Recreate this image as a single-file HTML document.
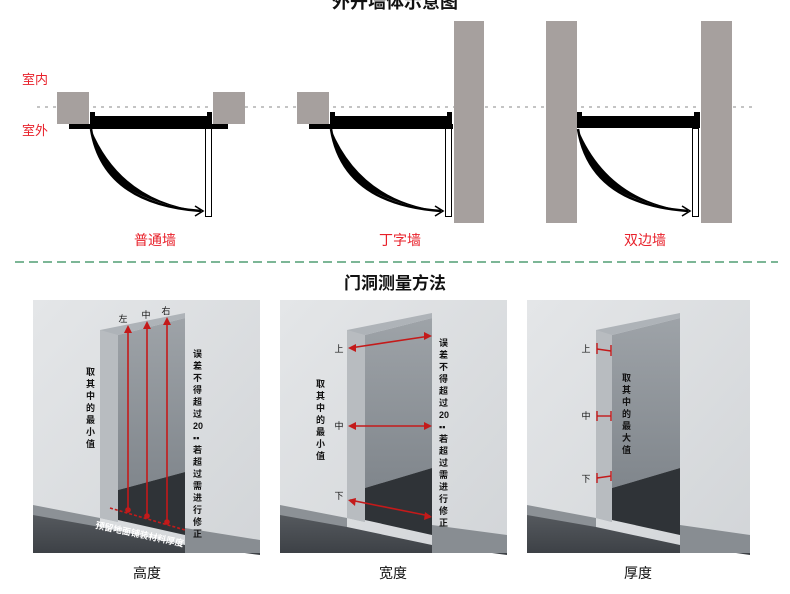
<!DOCTYPE html>
<html><head><meta charset="utf-8"><style>
html,body{margin:0;padding:0;background:#fff;width:790px;height:594px;overflow:hidden}
text{font-family:"Liberation Sans","Noto Sans CJK SC",sans-serif}
</style></head><body>
<svg width="790" height="594" viewBox="0 0 790 594" xmlns="http://www.w3.org/2000/svg">
<defs>
<linearGradient id="wall" x1="0" y1="0" x2="1" y2="1"><stop offset="0" stop-color="#e4e6e8"/><stop offset="1" stop-color="#d2d5d8"/></linearGradient>
<linearGradient id="back" x1="0" y1="0" x2="0" y2="1"><stop offset="0" stop-color="#9ea3a8"/><stop offset="1" stop-color="#80868c"/></linearGradient>
<linearGradient id="floor" x1="0" y1="0" x2="0" y2="1"><stop offset="0" stop-color="#55595e"/><stop offset="1" stop-color="#3c4045"/></linearGradient>
<g id="arc">
<path d="M0,0 Q8,70 110,82 Q30,72 0,0Z" fill="#000"/>
<path d="M0,0 Q12,75 110,82" fill="none" stroke="#000" stroke-width="2.5"/>
<path d="M104,77 L112,82 L104,87" fill="none" stroke="#000" stroke-width="1.6"/>
</g>
</defs>
<text x="395" y="8" font-size="18" font-weight="bold" text-anchor="middle" fill="#111">外开墙体示意图</text>
<line x1="37" y1="107" x2="752" y2="107" stroke="#888" stroke-dasharray="3,5" stroke-width="1"/>
<text x="22" y="84" font-size="13" fill="#e8202a">室内</text>
<text x="22" y="135" font-size="13" fill="#e8202a">室外</text>
<!-- diagram 1 -->
<rect x="57" y="92" width="32" height="32" fill="#a6a09e"/>
<rect x="213" y="92" width="32" height="32" fill="#a6a09e"/>
<rect x="69" y="124" width="159" height="5" fill="#000"/>
<rect x="90" y="116" width="122" height="12" fill="#000"/>
<rect x="90" y="112" width="5" height="6" fill="#000"/><rect x="207" y="112" width="5" height="6" fill="#000"/>
<rect x="205.5" y="128.5" width="6" height="88" fill="#fff" stroke="#000" stroke-width="1"/>
<use href="#arc" x="91" y="129"/>
<text x="155" y="245" font-size="14" fill="#e8202a" text-anchor="middle">普通墙</text>
<!-- diagram 2 -->
<rect x="297" y="92" width="32" height="32" fill="#a6a09e"/>
<rect x="309" y="124" width="144" height="5" fill="#000"/>
<rect x="330" y="116" width="122" height="12" fill="#000"/>
<rect x="330" y="112" width="5" height="6" fill="#000"/><rect x="447" y="112" width="5" height="6" fill="#000"/>
<rect x="454" y="21" width="30" height="202" fill="#a6a09e"/>
<rect x="445.5" y="128.5" width="6" height="88" fill="#fff" stroke="#000" stroke-width="1"/>
<use href="#arc" x="331" y="129"/>
<text x="400" y="245" font-size="14" fill="#e8202a" text-anchor="middle">丁字墙</text>
<!-- diagram 3 -->
<rect x="546" y="21" width="31" height="202" fill="#a6a09e"/>
<rect x="701" y="21" width="31" height="202" fill="#a6a09e"/>
<rect x="577" y="116" width="123" height="12" fill="#000"/>
<rect x="577" y="112" width="5" height="6" fill="#000"/><rect x="694" y="112" width="6" height="6" fill="#000"/>
<rect x="692.5" y="128.5" width="6" height="88" fill="#fff" stroke="#000" stroke-width="1"/>
<use href="#arc" x="578" y="129"/>
<text x="645" y="245" font-size="14" fill="#e8202a" text-anchor="middle">双边墙</text>
<line x1="15" y1="262" x2="778" y2="262" stroke="#2e8b57" stroke-dasharray="9,5" stroke-width="1.2"/>
<text x="395" y="289" font-size="17" font-weight="bold" text-anchor="middle" fill="#111">门洞测量方法</text>

<!-- panel 1 -->
<g>
<rect x="33" y="300" width="227" height="253" fill="url(#wall)"/>
<polygon points="33,505 100,518 100,553 33,553" fill="#8c9196"/>
<polygon points="33,515 100,527 185,545 260,555 260,553 33,553" fill="url(#floor)"/>
<polygon points="185,528 260,540 260,553 185,553" fill="#888d92"/>
<polygon points="118,335 185,318 185,472 118,490" fill="url(#back)"/>
<polygon points="118,490 185,472 185,535 118,520" fill="#2f3337"/>
<polygon points="100,330 185,313 185,318 118,335 118,522 100,518" fill="#aeb3b8"/>
<polygon points="100,330 118,335 118,522 100,518" fill="#b8bcc0"/>
<g stroke="#c41a1a" stroke-width="1.6" fill="#c41a1a">
<line x1="128" y1="328" x2="128" y2="510"/><line x1="147" y1="324" x2="147" y2="516"/><line x1="167" y1="320" x2="167" y2="522"/>
<polygon points="124,333 128,325 132,333" stroke="none"/><polygon points="143,329 147,321 151,329" stroke="none"/><polygon points="163,325 167,317 171,325" stroke="none"/>
<circle cx="128" cy="510" r="2"/><circle cx="147" cy="516" r="2"/><circle cx="167" cy="522" r="2"/>
<line x1="110" y1="508" x2="185" y2="530" stroke-dasharray="3,2"/>
</g>
<text x="123" y="322" font-size="9" fill="#111" text-anchor="middle">左</text>
<text x="146" y="318" font-size="9" fill="#111" text-anchor="middle">中</text>
<text x="166" y="314" font-size="9" fill="#111" text-anchor="middle">右</text>
<text font-size="9" fill="#111" font-weight="bold"><tspan x="86" y="375">取</tspan><tspan x="86" y="387">其</tspan><tspan x="86" y="399">中</tspan><tspan x="86" y="411">的</tspan><tspan x="86" y="423">最</tspan><tspan x="86" y="435">小</tspan><tspan x="86" y="447">值</tspan></text>
<text font-size="9" fill="#111" font-weight="bold"><tspan x="193" y="357">误</tspan><tspan x="193" y="369">差</tspan><tspan x="193" y="381">不</tspan><tspan x="193" y="393">得</tspan><tspan x="193" y="405">超</tspan><tspan x="193" y="417">过</tspan><tspan x="193" y="429">20</tspan><tspan x="193" y="441">▪▪</tspan><tspan x="193" y="453">若</tspan><tspan x="193" y="465">超</tspan><tspan x="193" y="477">过</tspan><tspan x="193" y="489">需</tspan><tspan x="193" y="501">进</tspan><tspan x="193" y="513">行</tspan><tspan x="193" y="525">修</tspan><tspan x="193" y="537">正</tspan></text>
<text x="95" y="528" font-size="9" fill="#fff" font-weight="bold" transform="rotate(12 95 528)">预留地面铺装材料厚度</text>
</g>
<text x="147" y="578" font-size="14" fill="#111" text-anchor="middle">高度</text>

<!-- panel 2 -->
<g>
<rect x="280" y="300" width="227" height="253" fill="url(#wall)"/>
<polygon points="280,505 347,518 347,553 280,553" fill="#8c9196"/>
<polygon points="280,515 347,527 432,545 507,555 507,553 280,553" fill="url(#floor)"/>
<polygon points="432,525 507,535 507,553 432,553" fill="#888d92"/>
<polygon points="365,335 432,318 432,468 365,488" fill="url(#back)"/>
<polygon points="365,488 432,468 432,535 365,520" fill="#2f3337"/>
<polygon points="347,330 432,313 432,318 365,335 365,522 347,518" fill="#aeb3b8"/>
<polygon points="347,330 365,335 365,522 347,518" fill="#b8bcc0"/>
<g stroke="#c41a1a" stroke-width="1.6" fill="#c41a1a">
<line x1="350" y1="348" x2="430" y2="336"/><line x1="350" y1="426" x2="430" y2="426"/><line x1="350" y1="500" x2="430" y2="516"/>
<polygon points="348,348 356,344 356,352" stroke="none"/><polygon points="432,336 424,332 424,340" stroke="none"/>
<polygon points="348,426 356,422 356,430" stroke="none"/><polygon points="432,426 424,422 424,430" stroke="none"/>
<polygon points="348,500 356,498 355,506" stroke="none"/><polygon points="432,517 425,512 424,520" stroke="none"/>
</g>
<text x="339" y="352" font-size="9" fill="#111" text-anchor="middle">上</text>
<text x="339" y="429" font-size="9" fill="#111" text-anchor="middle">中</text>
<text x="339" y="499" font-size="9" fill="#111" text-anchor="middle">下</text>
<text font-size="9" fill="#111" font-weight="bold"><tspan x="316" y="387">取</tspan><tspan x="316" y="399">其</tspan><tspan x="316" y="411">中</tspan><tspan x="316" y="423">的</tspan><tspan x="316" y="435">最</tspan><tspan x="316" y="447">小</tspan><tspan x="316" y="459">值</tspan></text>
<text font-size="9" fill="#111" font-weight="bold"><tspan x="439" y="346">误</tspan><tspan x="439" y="358">差</tspan><tspan x="439" y="370">不</tspan><tspan x="439" y="382">得</tspan><tspan x="439" y="394">超</tspan><tspan x="439" y="406">过</tspan><tspan x="439" y="418">20</tspan><tspan x="439" y="430">▪▪</tspan><tspan x="439" y="442">若</tspan><tspan x="439" y="454">超</tspan><tspan x="439" y="466">过</tspan><tspan x="439" y="478">需</tspan><tspan x="439" y="490">进</tspan><tspan x="439" y="502">行</tspan><tspan x="439" y="514">修</tspan><tspan x="439" y="526">正</tspan></text>
</g>
<text x="393" y="578" font-size="14" fill="#111" text-anchor="middle">宽度</text>

<!-- panel 3 -->
<g>
<rect x="527" y="300" width="223" height="253" fill="url(#wall)"/>
<polygon points="527,505 596,518 596,553 527,553" fill="#8c9196"/>
<polygon points="527,515 596,527 680,545 750,555 750,553 527,553" fill="url(#floor)"/>
<polygon points="680,525 750,535 750,553 680,553" fill="#888d92"/>
<polygon points="612,335 680,318 680,468 612,488" fill="url(#back)"/>
<polygon points="612,488 680,468 680,535 612,520" fill="#2f3337"/>
<polygon points="596,330 680,313 680,318 612,335 612,522 596,518" fill="#aeb3b8"/>
<polygon points="596,330 612,335 612,522 596,518" fill="#b8bcc0"/>
<g stroke="#c41a1a" stroke-width="1.4">
<line x1="597" y1="349" x2="611" y2="351"/><line x1="597" y1="343" x2="597" y2="354"/><line x1="611" y1="345" x2="611" y2="356"/>
<line x1="597" y1="416" x2="611" y2="416"/><line x1="597" y1="411" x2="597" y2="421"/><line x1="611" y1="411" x2="611" y2="421"/>
<line x1="597" y1="478" x2="611" y2="476"/><line x1="597" y1="473" x2="597" y2="483"/><line x1="611" y1="471" x2="611" y2="481"/>
</g>
<text x="586" y="352" font-size="9" fill="#111" text-anchor="middle">上</text>
<text x="586" y="419" font-size="9" fill="#111" text-anchor="middle">中</text>
<text x="586" y="482" font-size="9" fill="#111" text-anchor="middle">下</text>
<text font-size="9" fill="#111" font-weight="bold"><tspan x="622" y="381">取</tspan><tspan x="622" y="393">其</tspan><tspan x="622" y="405">中</tspan><tspan x="622" y="417">的</tspan><tspan x="622" y="429">最</tspan><tspan x="622" y="441">大</tspan><tspan x="622" y="453">值</tspan></text>
</g>
<text x="638" y="578" font-size="14" fill="#111" text-anchor="middle">厚度</text>
</svg>
</body></html>
